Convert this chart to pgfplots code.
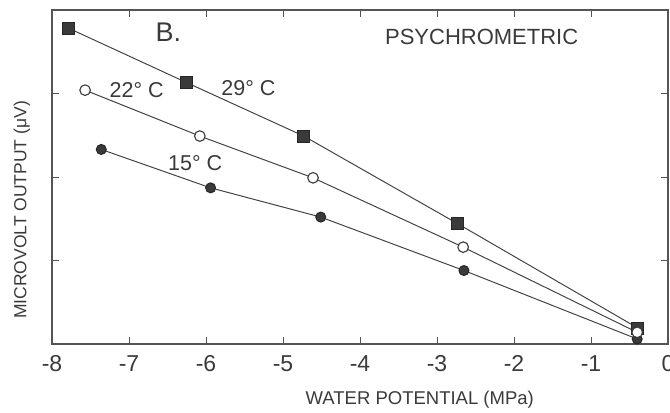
\documentclass[border=0pt]{standalone}
\usepackage{fontspec}
\setmainfont{Liberation Sans}
\usepackage{pgfplots}
\pgfplotsset{compat=1.18}
\definecolor{ink}{HTML}{3A3A3A}
\definecolor{axl}{HTML}{555555}
\definecolor{lin}{HTML}{444444}
\begin{document}
\begin{tikzpicture}
\begin{axis}[name=ax, scale only axis, width=616pt, height=334pt,
  xmin=-8, xmax=0, ymin=0, ymax=4,
  xtick={-8,-7,-6,-5,-4,-3,-2,-1,0}, ytick={1,2,3}, yticklabels={},
  tick align=inside, major tick length=7pt,
  axis line style={draw=axl, line width=1.2pt},
  tick style={draw=axl, line width=1pt},
  xtick pos=both, ytick pos=both,
  /pgf/number format/assume math mode=true,
  tick label style={font=\fontsize{23}{23}\selectfont, text=ink},
  xticklabel style={yshift=-8pt},
  xlabel={WATER POTENTIAL (MPa)},
  ylabel={MICROVOLT OUTPUT (μV)},
  every axis x label/.style={at={(axis description cs:0.597,-0.168)}, anchor=center, font=\fontsize{18.5}{18.5}\selectfont, text=ink},
  every axis y label/.style={at={(axis description cs:-0.049,0.401)}, rotate=90, anchor=center, font=\fontsize{17.5}{17.5}\selectfont, text=ink},
  clip=false,
]
\addplot[draw=lin, line width=1pt, mark=square*, mark size=6pt, mark options={fill=ink, draw=black!85}]
  coordinates {(-7.78,3.78) (-6.25,3.13) (-4.73,2.49) (-2.73,1.44) (-0.39,0.19)};
\addplot[draw=lin, line width=1pt, mark=*, mark size=5pt, mark options={fill=ink, draw=black!85}]
  coordinates {(-7.36,2.33) (-5.94,1.87) (-4.51,1.52) (-2.65,0.88) (-0.40,0.06)};
\addplot[draw=lin, line width=1pt, mark=*, mark size=5.3pt, mark options={fill=white, draw=ink, line width=1.1pt}]
  coordinates {(-7.57,3.04) (-6.08,2.49) (-4.61,1.99) (-2.66,1.16) (-0.40,0.14)};
\node[font=\fontsize{27}{27}\selectfont, text=ink] at (axis cs:-6.49,3.73) {B.};
\node[font=\fontsize{22}{22}\selectfont, text=ink] at (axis cs:-2.42,3.68) {PSYCHROMETRIC};
\node[font=\fontsize{21.5}{21.5}\selectfont, text=ink] at (axis cs:-6.9,3.04) {22° C};
\node[font=\fontsize{21.5}{21.5}\selectfont, text=ink] at (axis cs:-5.45,3.07) {29° C};
\node[font=\fontsize{21.5}{21.5}\selectfont, text=ink] at (axis cs:-6.14,2.17) {15° C};
\end{axis}
\pgfresetboundingbox
\path ([shift={(-52pt,-68pt)}]ax.south west) rectangle ([shift={(2pt,10pt)}]ax.north east);
\end{tikzpicture}
\end{document}
